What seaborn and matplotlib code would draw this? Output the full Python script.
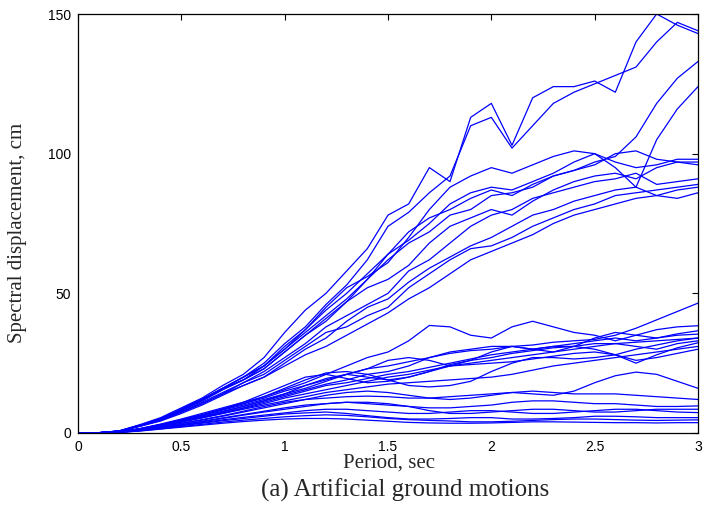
import numpy as np
import pandas as pd
import matplotlib
matplotlib.use("Agg")
import matplotlib.pyplot as plt
import seaborn as sns

# Natural period grid (s)
periods = [round(0.1 * i, 1) for i in range(31)]

# Spectral displacement (cm) of the records with large long-period response
high_records = [
    [0, 0.1, 0.8, 3, 5.5, 9, 12.5, 17, 21, 27, 36, 44, 50, 58, 66, 78, 82, 95, 90, 113, 118, 103, 120, 124, 124, 126, 122, 140, 150, 146, 143],
    [0, 0.1, 0.7, 2.8, 5.2, 8.5, 12, 16, 20, 25, 32, 38, 46, 53, 62, 74, 79, 86, 92, 110, 113, 102, 110, 118, 122, 125, 128, 131, 140, 147, 144],
    [0, 0.1, 0.7, 2.8, 5, 8.5, 12, 16, 20, 24, 30, 36, 42, 48, 55, 62, 68, 72, 78, 80, 85, 86, 88, 92, 94, 97, 99, 106, 118, 127, 133],
    [0, 0.1, 0.7, 2.7, 5, 8.5, 12, 16, 20, 24, 31, 37, 44, 50, 57, 64, 69, 75, 82, 86, 88, 87, 90, 93, 97, 100, 95, 88, 105, 116, 124],
    [0, 0.1, 0.7, 2.7, 5, 8.5, 12, 16, 19, 24, 30, 37, 45, 52, 56, 61, 70, 80, 88, 92, 95, 93, 96, 99, 101, 100, 97, 95, 96, 98, 98],
    [0, 0.1, 0.7, 2.6, 4.8, 8, 11.5, 15.5, 19, 23, 29, 35, 41, 47, 55, 64, 72, 77, 80, 84, 87, 85, 89, 92, 94, 96, 100, 101, 98, 97, 97],
    [0, 0.1, 0.6, 2.5, 4.6, 7.5, 11, 14.5, 18, 22, 27, 32, 38, 42, 46, 50, 58, 62, 68, 74, 78, 80, 84, 86, 88, 90, 91, 93, 89, 90, 91],
    [0, 0.1, 0.6, 2.5, 4.5, 7.5, 10.5, 14, 17, 20, 25, 30, 34, 40, 45, 48, 54, 59, 63, 67, 70, 74, 78, 80, 83, 85, 87, 88, 85, 87, 88],
    [0, 0.1, 0.6, 2.4, 4.3, 7, 10, 13.5, 17, 20, 24, 28, 31, 35, 39, 43, 48, 52, 57, 62, 65, 68, 71, 75, 78, 80, 82, 84, 85, 84, 86],
    [0, 0.1, 0.7, 2.6, 4.9, 8, 11.5, 15.5, 19, 23, 29, 35, 40, 47, 52, 55, 60, 68, 74, 77, 80, 78, 83, 87, 90, 92, 93, 91, 95, 97, 96],
    [0, 0.1, 0.6, 2.5, 4.5, 7.5, 10.5, 14, 18, 21, 26, 31, 36, 38, 42, 45, 52, 57, 62, 66, 67, 70, 74, 77, 80, 82, 85, 86, 87, 88, 89],
]

# Spectral displacement (cm) of the records with small long-period response
low_records = [
    [0, 0.05, 0.4, 1.5, 3, 4.8, 6.5, 8.5, 10.5, 12.5, 15, 17, 19, 21, 23, 24, 25.5, 27, 28.5, 29.5, 30, 31, 31.5, 32.5, 33, 33.5, 35, 37.5, 40.5, 43.5, 46.5],
    [0, 0.05, 0.4, 1.6, 3.2, 5, 7, 9, 11, 13, 15.5, 18, 21, 24, 27, 29, 33, 38.5, 38, 35, 34, 38, 40, 38, 36, 35, 33, 35, 37, 38, 38.4],
    [0, 0.05, 0.4, 1.5, 3, 4.6, 6.3, 8.2, 10, 12, 14, 16, 18.5, 21, 23, 26, 27, 26, 24, 26, 29, 31, 30, 31, 32, 33, 34, 33, 34, 35.5, 36.6],
    [0, 0.05, 0.35, 1.4, 2.8, 4.4, 6, 7.8, 9.5, 11.5, 13.5, 15.5, 17.5, 19, 21, 22, 24, 27, 29, 30, 31, 31, 30, 29, 31, 34, 36, 35, 34, 35, 35.4],
    [0, 0.05, 0.35, 1.4, 2.7, 4.2, 5.8, 7.5, 9.5, 11.5, 14, 17, 19.5, 21, 20, 19, 20, 22, 24, 25, 26, 27, 28, 29, 30, 31, 32, 31, 30, 32, 33],
    [0, 0.05, 0.35, 1.3, 2.6, 4, 5.5, 7.2, 9, 11, 13, 15, 17, 18, 19.5, 21, 22, 23.5, 25, 26.5, 28, 29, 30, 31, 31, 30, 28, 25, 28, 30.5, 32.3],
    [0, 0.05, 0.3, 1.3, 2.5, 3.9, 5.4, 7, 8.8, 10.5, 12.5, 14, 15.5, 17, 18.5, 20, 21, 22.5, 24, 24.5, 25, 25.5, 26.5, 27.5, 28.5, 29, 28, 26, 27, 28.5, 30],
    [0, 0.05, 0.4, 1.5, 3, 4.7, 6.5, 8.6, 11, 14, 17, 20, 21, 19.5, 18, 18.5, 20, 22, 24.5, 26, 27, 28.5, 29.5, 30.5, 31, 32, 32, 32.5, 33, 33.5, 34],
    [0, 0.05, 0.3, 1.2, 2.3, 3.5, 4.8, 6.2, 7.8, 9.5, 11, 12, 12.5, 13, 13.2, 13, 12.5, 12.5, 13, 13.5, 14, 14.5, 14, 13.5, 15, 18, 20.5, 21.8, 21, 18.5, 16],
    [0, 0.05, 0.3, 1.1, 2.2, 3.4, 4.6, 6, 7.5, 9, 10.5, 12, 13.5, 14.5, 15, 14.5, 13.5, 12.5, 12, 12.5, 13.5, 14.5, 15, 14.5, 14, 14, 14, 13.5, 13, 12.5, 12],
    [0, 0.05, 0.3, 1, 2, 3, 4.2, 5.4, 6.6, 7.8, 9, 10, 10.5, 11, 10.5, 10, 9.5, 9, 9, 9.5, 10, 11, 11.5, 11.5, 11, 10.5, 10.5, 10, 9.5, 9.5, 9.7],
    [0, 0.05, 0.25, 0.9, 1.8, 2.7, 3.7, 4.7, 5.6, 6.4, 7.2, 8, 8.5, 8.5, 8, 7.5, 7, 7, 7.5, 8, 8, 7.5, 7, 7, 7.5, 8, 8.5, 8.5, 8, 7.5, 7.3],
    [0, 0.05, 0.25, 0.9, 1.7, 2.6, 3.5, 4.4, 5.2, 6, 6.8, 7.2, 7.5, 7, 6.2, 5.5, 5, 5, 5.2, 5.5, 5.5, 5, 5, 5.2, 5.5, 6, 6, 5.8, 5.5, 5.5, 5.5],
    [0, 0.04, 0.2, 0.8, 1.5, 2.3, 3.1, 3.9, 4.6, 5.2, 5.8, 6.2, 6.5, 6.3, 5.8, 5.2, 4.8, 4.5, 4.3, 4, 4, 4.2, 4.5, 4.8, 5, 5, 4.8, 4.6, 4.5, 4.6, 4.7],
    [0, 0.04, 0.2, 0.7, 1.4, 2.1, 2.8, 3.5, 4.1, 4.6, 5, 5.2, 5.2, 5, 4.6, 4.2, 3.8, 3.6, 3.5, 3.5, 3.6, 3.8, 4, 4, 3.9, 3.8, 3.7, 3.7, 3.6, 3.7, 3.7],
    [0, 0.05, 0.3, 1, 2, 3, 4, 5.2, 6.4, 7.5, 8.5, 9.5, 10.5, 11, 11, 10.5, 9.5, 8, 7, 7, 7.5, 8, 8.5, 8.5, 8, 7.5, 7.5, 8, 8.5, 8.5, 8.5],
    [0, 0.05, 0.35, 1.3, 2.6, 4, 5.5, 7, 8.5, 10, 11.5, 13, 14.5, 15.5, 16.5, 17.5, 18, 18.5, 19, 19.5, 20, 21, 22.5, 24, 25, 26, 27, 28, 29, 30, 31],
    [0, 0.05, 0.4, 1.5, 3, 4.7, 6.5, 8.5, 10.5, 13, 16, 19, 21.5, 22, 21, 19, 17, 16.5, 17, 18.5, 22, 25, 27, 27, 26.5, 27, 28, 30, 31.5, 33, 34],
]

x_ticks = [0, 0.5, 1, 1.5, 2, 2.5, 3]
x_tick_labels = ["0", "0.5", "1", "1.5", "2", "2.5", "3"]
y_ticks = [0, 50, 100, 150]
y_tick_labels = ["0", "50", "100", "150"]

records = high_records + low_records
frames = []
for k, sd in enumerate(records):
    frames.append(pd.DataFrame({"period": periods, "sd": sd, "record": k}))
df = pd.concat(frames, ignore_index=True)

sns.set_style("white")
plt.rcParams["font.family"] = ["Liberation Sans", "DejaVu Sans"]

fig = plt.figure(figsize=(7.04, 5.14), dpi=100)
ax = fig.add_axes([78 / 704, 81 / 514, 620 / 704, 419 / 514])

sns.lineplot(data=df, x="period", y="sd", hue="record", units="record",
             estimator=None, palette=["#0000ff"] * len(records),
             legend=False, linewidth=0.9, ax=ax)

ax.set_xlim(0, 3)
ax.set_ylim(0, 150)
ax.set_xticks(x_ticks)
ax.set_xticklabels(x_tick_labels)
ax.set_yticks(y_ticks)
ax.set_yticklabels(y_tick_labels)
ax.tick_params(direction="in", length=4.5, width=0.8, top=True, right=True,
               labelsize=10, colors="black", pad=5)
for s in ax.spines.values():
    s.set_visible(True)
    s.set_color("black")
    s.set_linewidth(0.9)

serif = ["Liberation Serif", "DejaVu Serif"]
ax.set_xlabel("Period, sec", fontsize=15, family=serif)
ax.set_ylabel("Spectral displacement, cm", fontsize=15, family=serif)
ax.xaxis.set_label_coords(0.502, -0.05)
ax.yaxis.set_label_coords(-0.083, 0.477)

fig.text(405 / 704, 1 - 490 / 514, "(a) Artificial ground motions",
         ha="center", va="center", fontsize=18, family=serif)

fig.savefig("out.png", dpi=100, facecolor="white")
